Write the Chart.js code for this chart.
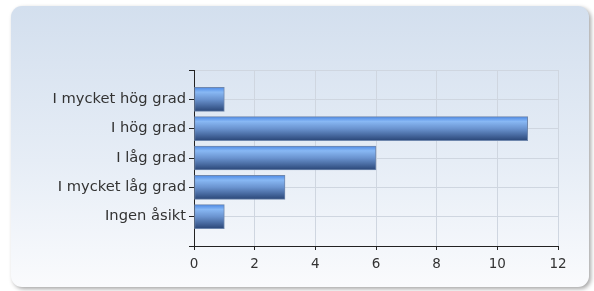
<!DOCTYPE html>
<html>
<head>
<meta charset="utf-8">
<script src="https://cdn.jsdelivr.net/npm/chart.js@4"></script>
<style>
  html, body { margin: 0; padding: 0; background: #fff; }
  #wrap { width: 594px; height: 291px; }
</style>
</head>
<body>
<div id="wrap"><canvas id="myChart" width="594" height="291"></canvas></div>
<script>
// data
const categories = ['I mycket hög grad', 'I hög grad', 'I låg grad', 'I mycket låg grad', 'Ingen åsikt'];
const values = [1, 11, 6, 3, 1];
const xTicks = [0, 2, 4, 6, 8, 10, 12];

// empty slots at top and bottom give the extra half-row of space
const labels = [''].concat(categories, ['']);
const barData = [null].concat(values, [null]);

// rounded light-blue panel behind the chart
const panelPlugin = {
    id: 'panel',
    beforeDraw(chart) {
        const c = chart.ctx;
        const x = 11, y = 6, w = 578, h = 281, r = 11;
        c.save();
        // shadow
        c.shadowColor = 'rgba(0,0,0,0.35)';
        c.shadowBlur = 4;
        c.shadowOffsetX = 2;
        c.shadowOffsetY = 2;
        const g = c.createLinearGradient(0, y, 0, y + h);
        g.addColorStop(0, '#d3dfee');
        g.addColorStop(0.55, '#e6edf6');
        g.addColorStop(1, '#fafbfd');
        c.fillStyle = g;
        c.beginPath();
        c.roundRect(x, y, w, h, r);
        c.fill();
        c.restore();
    }
};

function barGradient(context) {
    const chart = context.chart;
    const yScale = chart.scales.y;
    if (!yScale || context.dataIndex === undefined) return '#4f82cc';
    const cy = yScale.getPixelForValue(context.dataIndex);
    if (!isFinite(cy)) return '#4f82cc';
    const g = chart.ctx.createLinearGradient(0, cy - 12, 0, cy + 12);
    g.addColorStop(0, '#4d8ae6');
    g.addColorStop(0.2, '#88b8f4');
    g.addColorStop(0.5, '#6a93cf');
    g.addColorStop(1, '#2a4677');
    return g;
}

const ctx = document.getElementById('myChart');

const myChart = new Chart(ctx, {
    type: 'bar',
    data: {
        labels: labels,
        datasets: [{
            data: barData,
            backgroundColor: barGradient,
            borderColor: '#6f87ad',
            borderWidth: 1,
            borderSkipped: false,
            barThickness: 24
        }]
    },
    plugins: [panelPlugin],
    options: {
        indexAxis: 'y',
        responsive: false,
        animation: false,
        layout: { padding: { top: 70, right: 36, bottom: 0, left: 0 } },
        plugins: {
            legend: { display: false },
            tooltip: { enabled: false }
        },
        scales: {
            x: {
                min: 0,
                max: 12,
                afterBuildTicks: function(scale) {
                    scale.ticks = xTicks.map(v => ({ value: v }));
                },
                afterFit: function(scale) { scale.height = 45; },
                grid: { color: '#cfd6e0', tickColor: '#222', tickLength: 4 },
                border: { color: '#222', width: 1 },
                ticks: {
                    color: '#333',
                    font: { family: 'DejaVu Sans', size: 13.5 },
                    padding: 6
                }
            },
            y: {
                type: 'category',
                offset: false,
                afterFit: function(scale) { scale.width = 194; },
                grid: { offset: false, color: '#cfd6e0', tickColor: '#222', tickLength: 5 },
                border: { color: '#222', width: 1 },
                ticks: {
                    color: '#333',
                    font: { family: 'DejaVu Sans', size: 14.7 },
                    padding: 3
                }
            }
        }
    }
});
</script>
</body>
</html>
